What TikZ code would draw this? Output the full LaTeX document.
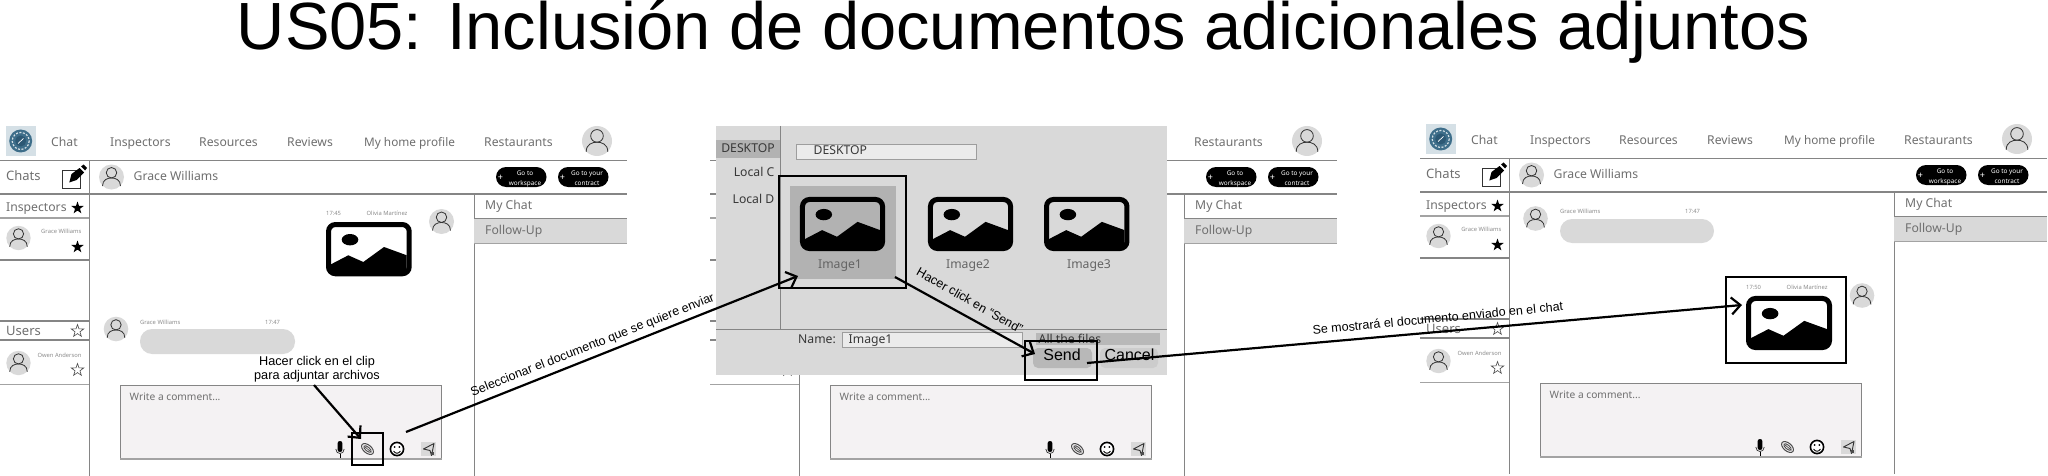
\documentclass[tikz,border=0pt]{standalone}
\usepackage{fontspec}
\setmainfont{Noto Sans}
\newfontfamily\annofont{Liberation Sans}
\usetikzlibrary{arrows.meta}
\definecolor{avgray}{HTML}{D9D9D9}
\definecolor{uitext}{HTML}{6F6F6F}
\definecolor{uiline}{HTML}{858585}
\definecolor{softline}{HTML}{A3A3A3}
\definecolor{dlg}{HTML}{D9D9D9}
\definecolor{dlgdark}{HTML}{B2B2B2}
\definecolor{field}{HTML}{EBEBEB}
\definecolor{boxfill}{HTML}{F4F2F3}
\definecolor{logobg}{HTML}{D5E0E6}
\definecolor{logodisc}{HTML}{3E6E8A}
\definecolor{logocore}{HTML}{2C5874}
\newcommand\fz[1]{\fontsize{#1}{#1}\selectfont}
\tikzset{
  ui/.style={anchor=west,inner sep=0pt,text height=.9em,text depth=.2em,text=uitext,font=\fz{12.2}},
  uic/.style={ui,anchor=center},
  tiny/.style={ui,font=\fz{5.8},text=uitext!80},
  anno/.style={inner sep=0pt,align=center,text=black,font=\annofont\fz{12.5},text height=.72em,text depth=.2em},
  hl/.style={draw=uiline,line width=1.1pt},
  hlt/.style={draw=softline,line width=1.8pt},
  mark box/.style={draw=black,line width=2.2pt,fill=none},
  flow/.style={draw=black,line width=2.2pt,-{Straight Barb[length=9pt,width=17pt,line width=2.2pt]}},
  dlgline/.style={draw=uiline,line width=1pt},
  dlgtext/.style={ui,text=black!78,font=\fz{12.2}},
  fieldbox/.style={fill=field,draw=uiline!80,line width=.8pt},
}
\newcommand\avatar[3]{\begin{scope}[shift={(#1,#2)},scale=#3]
  \fill[avgray] (0,0) circle (1);
  \draw[black!80,line width=.8pt] (0,-.34) circle (.42);
  \draw[black!80,line width=.8pt] (-.72,.72) .. controls (-.72,.2) and (-.3,.08) .. (0,.08) .. controls (.3,.08) and (.72,.2) .. (.72,.72);
\end{scope}}
\newcommand\starshape{(0,-6.5) -- (1.53,-2.1) -- (6.18,-2) -- (2.47,.8) -- (3.82,5.26) -- (0,2.6) -- (-3.82,5.26) -- (-2.47,.8) -- (-6.18,-2) -- (-1.53,-2.1) -- cycle}
\newcommand\starfull[2]{\fill[black,shift={(#1,#2)}] \starshape;}
\newcommand\staropen[2]{\draw[black!70,line width=.6pt,shift={(#1,#2)}] \starshape;}
\newcommand\imgicon[4]{\begin{scope}[shift={(#1,#2)},xscale=#3/85.67,yscale=#4/54.3]
  \fill[black] (5,42.3) -- (22.3,33.3) -- (37.3,40) -- (58,25) -- (80.7,33.3) -- (80.7,50) -- (5,50) -- cycle;
  \fill[black] (24,17.7) ellipse (8.3 and 5.7);
  \draw[black,line width=5pt,rounded corners=7pt] (2.5,2.5) rectangle (83.2,51.8);
\end{scope}}
\newcommand\logoicon{%
  \fill[logobg] (6,126) rectangle (35.5,156);
  \fill[logodisc] (20.7,141) circle (11.5);
  \draw[logobg,line width=1.2pt,dash pattern=on 2pt off 1.5pt] (20.7,141) circle (8.5);
  \fill[logocore] (20.7,141) circle (5.5);
  \draw[white,line width=.7pt] (18,143.5) -- (23.5,138.5);
}
\newcommand\compose{%
  \draw[black!80,line width=.7pt,fill=white] (62,170) rectangle (80,188);
  \fill[black] (69.3,182.5) -- (71.5,174) -- (79.5,168) -- (84,172.5) -- (76.5,180) -- cycle;
  \fill[black] (81,166.5) -- (83.5,164.5) -- (87,168) -- (85,170.5) -- cycle;
}
\newcommand\navleft{%
  \logoicon
  \node[ui] (chat) at (51,143) {Chat};
  \node[ui] (inspectors) at (110,143) {Inspectors};
  \node[ui] (resources) at (199,143) {Resources};
  \node[ui] (reviews) at (287,143) {Reviews};
  \node[ui,font=\fz{11.8}] (profile) at (364,143) {My home profile};
  \node[ui,font=\fz{13}] (chats) at (6,177) {Chats};
  \compose
  \avatar{111.5}{177}{12.5}
  \node[ui] (grace) at (133.5,177) {Grace Williams};
  \node[ui] (insp) at (6,208) {Inspectors};
  \starfull{77.5}{208}
  \avatar{18.5}{238}{12.2}
  \node[tiny,anchor=east] (gw) at (81.6,230) {Grace Williams};
  \starfull{77.5}{247}
  \node[ui,font=\fz{13}] (users) at (6,332) {Users};
  \staropen{77.5}{331}
  \avatar{18.5}{363}{12.2}
  \node[tiny,anchor=east] (oa) at (81.6,354) {Owen Anderson};
  \staropen{77.5}{370}
}
\newcommand\pill[5]{%
  \fill[black,rounded corners=10pt] (#1,167) rectangle (#1+50.5,187);
  \node[ui,anchor=center,text=white,font=\fz{9}] (plus#5) at (#1+4.5,177) {+};
  \node[ui,anchor=center,text=white,font=\fz{6.4}] (top#5) at (#1+#2,172) {#3};
  \node[ui,anchor=center,text=white,font=\fz{6.4}] (bot#5) at (#1+#2,182) {#4};
}
\newcommand\navright{%
  \node[ui] (rest) at (484,143) {Restaurants};
  \avatar{597}{141}{15}
  \pill{496}{29}{Go to}{workspace}{a}
  \pill{558}{29}{Go to your}{contract}{b}
  \fill[avgray] (474,219) rectangle (627,243);
  \draw[draw=softline,line width=1pt] (474,243) -- (627,243);
  \draw[draw=uiline,line width=1.4pt] (474,218.5) -- (627,218.5);
  \node[ui] (mychat) at (485,206) {My Chat};
  \node[ui] (follow) at (485,231) {Follow-Up};
}
\newcommand\framelines{%
  \draw[hl] (0,160.5) -- (627,160.5);
  \draw[hl] (0,194) -- (627,194);
  \draw[hl,line width=.9pt] (89.4,160.5) -- (89.4,476);
  \draw[hl,line width=.9pt] (474,194) -- (474,476);
  \draw[hlt] (0,218) -- (89.4,218);
  \draw[hl] (0,260) -- (89.4,260);
  \draw[hl] (0,321) -- (89.4,321);
  \draw[hl] (0,340) -- (89.4,340);
  \draw[hlt] (0,384.5) -- (89.4,384.5);
}
\newcommand\composer{%
  \draw[fill=boxfill,draw=uiline,line width=1pt] (120.4,385) rectangle (441.6,438);
  \fill[boxfill] (120.4,438) rectangle (441.6,459);
  \draw[uiline,line width=1pt] (120.4,438) -- (120.4,459);
  \draw[uiline,line width=1pt] (441.6,438) -- (441.6,459);
  \draw[softline,line width=1.6pt] (120.4,459) -- (441.6,459);
  \node[ui,font=\fz{10.2}] (write) at (129.5,397) {Write a comment...};
  % mic
  \fill[black,rounded corners=2.3pt] (337.6,441) rectangle (342.4,452);
  \draw[black!80,line width=.7pt] (335.8,449) .. controls (335.8,455) and (344.2,455) .. (344.2,449);
  \draw[black,line width=1pt] (340,454) -- (340,458);
  % clip
  \begin{scope}[shift={(367.5,449)},rotate=-40]
    \draw[black!70,line width=1pt] (0,0) ellipse (7 and 4);
    \draw[black!70,line width=.9pt] (0,0) ellipse (4.6 and 2);
    \draw[black!70,line width=.7pt] (-4,0) -- (5,0);
  \end{scope}
  % smile
  \draw[black,line width=1.6pt,fill=white] (397,449) circle (6.6);
  \fill[black] (394.6,447) circle (.95);
  \fill[black] (399.4,447) circle (.95);
  \draw[black,line width=.9pt] (393.6,451) .. controls (395,454) and (399,454) .. (400.4,451);
  % send
  \fill[avgray] (421,442) rectangle (436,456);
  \draw[black!80,line width=.9pt,line join=round] (434,443.5) -- (423.5,449) -- (430,450.5) -- (431.5,455.5) -- cycle;
  \fill[black!70] (431,451.5) rectangle (434,455);
}
\begin{document}
\begin{tikzpicture}[x=1pt,y=-1pt]
\useasboundingbox (0,0) rectangle (2048,476);
\fill[white] (0,0) rectangle (2048,476);
\node[inner sep=0pt,anchor=base,font=\annofont\fz{66.8},text=black] (title) at (1023.5,50) {US05: Inclusión de documentos adicionales adjuntos};

% ---------- screen 1
\begin{scope}[name prefix=s1-]
  \framelines
  \navleft
  \navright
  \composer
  \node[tiny] (t1) at (326,212) {17:45};
  \node[tiny] (n1) at (366.5,212) {Olivia Martínez};
  \imgicon{326}{222}{85.7}{54.3}
  \avatar{441.5}{221.5}{12.5}
  \avatar{116}{329}{12.3}
  \node[tiny] (n2) at (140,321) {Grace Williams};
  \node[tiny] (t2) at (265,321) {17:47};
  \fill[avgray,rounded corners=12pt] (140,329) rectangle (295,354);
\end{scope}

% ---------- screen 2
\begin{scope}[shift={(710,0)},name prefix=s2-]
  \framelines
  \staropen{77.5}{370}
  \navright
  \composer
\end{scope}

% ---------- screen 3
\begin{scope}[shift={(1420,-2)},name prefix=s3-]
  \framelines
  \navleft
  \navright
  \composer
\end{scope}
\avatar{1535.5}{218.5}{12.3}
\node[tiny] (s3n2) at (1560,210) {Grace Williams};
\node[tiny] (s3t2) at (1685,210) {17:47};
\fill[avgray,rounded corners=12pt] (1560,219) rectangle (1714,243);
\node[tiny] (s3t1) at (1746,286) {17:50};
\node[tiny] (s3n1) at (1786.5,286) {Olivia Martínez};
\imgicon{1746}{296}{86}{54}
\avatar{1862}{295.5}{12.3}

% ---------- file dialog
\fill[dlg] (716,126) rectangle (1167,375);
\fill[dlgdark] (716,140) rectangle (780.5,158);
\draw[dlgline] (780.5,126) -- (780.5,329);
\draw[dlgline] (716,329) -- (1167,329);
\node[dlgtext,anchor=center] (dleft) at (748,149) {DESKTOP};
\node[dlgtext,anchor=east] (lc) at (774.5,173) {Local C};
\node[dlgtext,anchor=east] (ld) at (774.5,200) {Local D};
\draw[fieldbox] (796.5,144) rectangle (976.5,159);
\node[dlgtext] (daddr) at (813.5,151.5) {DESKTOP};
\fill[dlgdark] (790,186) rectangle (896,279);
\imgicon{800}{197}{85}{54}
\imgicon{928}{197}{85}{54}
\imgicon{1044}{197}{85.4}{54}
\node[dlgtext,anchor=center,text=uitext!90!black] (im1) at (840,265) {Image1};
\node[dlgtext,anchor=center,text=uitext!90!black] (im2) at (968,265) {Image2};
\node[dlgtext,anchor=center,text=uitext!90!black] (im3) at (1089,265) {Image3};
\node[dlgtext] (lname) at (798,339.5) {Name:};
\draw[fieldbox] (842.5,332) rectangle (1022.5,347);
\node[dlgtext] (fname) at (848.5,339.5) {Image1};
\fill[black!28] (1036,333) rectangle (1160,345);
\node[dlgtext] (allf) at (1038.5,339.5) {All the files};
\fill[black!28,rounded corners=5pt] (1033,348) rectangle (1092,368);
\fill[black!20,rounded corners=5pt] (1100,348) rectangle (1158,368);
\node[inner sep=0pt,font=\annofont\fz{16},text=black,text height=.72em,text depth=.2em] (send) at (1062,358) {Send};
\node[inner sep=0pt,font=\annofont\fz{16},text=black,text height=.72em,text depth=.2em] (cancel) at (1129.5,358) {Cancel};

% ---------- highlight frames
\node[mark box,inner sep=0pt,minimum width=31pt,minimum height=32pt] (fclip) at (367.5,449) {};
\node[mark box,inner sep=0pt,minimum width=127pt,minimum height=112pt] (fimg) at (842.5,232) {};
\node[mark box,inner sep=0pt,minimum width=72pt,minimum height=39.5pt] (fsend) at (1061,360.5) {};
\node[mark box,inner sep=0pt,minimum width=120pt,minimum height=86pt] (fdoc) at (1786,320) {};

% ---------- annotations
\node[anno,font=\annofont\fz{12.7}] (lclip1) at (317,363) {Hacer click en el clip};
\node[anno,font=\annofont\fz{12.7}] (lclip2) at (317,377) {para adjuntar archivos};
\coordinate (a1s) at (314,385);
\coordinate (a1e) at (361,439);
\draw[flow] (a1s) -- (a1e);
\coordinate (a2s) at (406,432);
\coordinate (a2e) at (798,276);
\draw[flow] (a2s) -- (a2e);
\coordinate (a3s) at (895,277);
\coordinate (a3e) at (1035,354);
\draw[flow] (a3s) -- (a3e);
\coordinate (a4s) at (1087,363);
\coordinate (a4e) at (1742,305);
\draw[flow] (a4s) -- (a4e);
\node[anno,rotate=21.5] (l2) at (593,346) {Seleccionar el documento que se quiere enviar};
\node[anno,rotate=-29.5] (l3) at (969,302) {Hacer click en “Send”};
\node[anno,rotate=5.5] (l4) at (1438,320) {Se mostrará el documento enviado en el chat};
\end{tikzpicture}
\end{document}
